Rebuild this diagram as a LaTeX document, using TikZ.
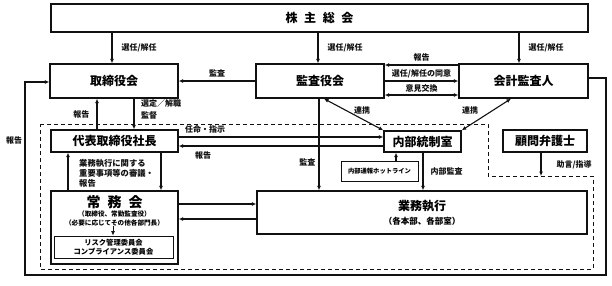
\documentclass[tikz,border=0pt]{standalone}
\usepackage{fontspec}
\setmainfont{Noto Sans CJK JP}
\usetikzlibrary{arrows.meta}
\definecolor{orgink}{HTML}{111111}
\newcommand{\fsz}[1]{\fontsize{#1}{#1}\selectfont}
\tikzstyle{orgbox}=[draw=orgink,line width=1.4pt,align=center,inner sep=0pt,
  font=\bfseries\fsz{12}]
\tikzstyle{thinbox}=[draw=orgink,line width=0.7pt,align=center,inner sep=0pt]
\tikzstyle{lbl}=[text=orgink,font=\bfseries\fontsize{8}{12}\selectfont,inner sep=1pt,align=left]
\tikzstyle{arr}=[draw=orgink,line width=1.1pt,-{Latex[length=4.5pt,width=4pt]}]
\tikzstyle{darr}=[draw=orgink,line width=1.1pt,{Latex[length=4.5pt,width=4pt]}-{Latex[length=4.5pt,width=4pt]}]
\tikzstyle{area}=[draw=orgink,line width=0.8pt,dash pattern=on 4pt off 3pt]

\begin{document}
\begin{tikzpicture}[x=1pt,y=-1pt]
  \useasboundingbox (0,0) rectangle (612,285);
  % boxes
  \node[orgbox,minimum width=537pt,minimum height=28pt] (soukai) at (319.5,18) {株\hspace{0.55em}主\hspace{0.55em}総\hspace{0.55em}会};
  \node[orgbox,minimum width=128pt,minimum height=34pt] (torishimari) at (114,81) {取締役会};
  \node[orgbox,minimum width=128pt,minimum height=34pt] (kansa) at (320,81) {監査役会};
  \node[orgbox,minimum width=129pt,minimum height=34pt] (kaikei) at (523.5,81) {会計監査人};
  \node[orgbox,minimum width=127pt,minimum height=22pt] (shacho) at (114.5,141) {代表取締役社長};
  \node[orgbox,minimum width=77pt,minimum height=21pt] (naibu) at (422.5,141.5) {内部統制室};
  \node[orgbox,minimum width=84pt,minimum height=22pt] (komon) at (545,141) {顧問弁護士};
  \node[thinbox,minimum width=77pt,minimum height=20pt,font=\bfseries\fsz{6.3}] (hotline) at (379.5,171) {内部通報ホットライン};
  \node[orgbox,minimum width=330pt,minimum height=43pt] (gyomu) at (422,212.5) {業務執行\\[2pt]{\fsz{8.5}（各本部、各部室）}};
  \node[orgbox,minimum width=127pt,minimum height=73pt] (jomu) at (114.5,227.5) {};
  \node[font=\bfseries\fsz{14}] (jomutitle) at (114.5,202) {常\hspace{0.5em}務\hspace{0.5em}会};
  \node[font=\bfseries\fsz{6.6},align=center,inner sep=0pt] (jomusub) at (114.5,218.5) {（取締役、常勤監査役）\\[2.4pt]（必要に応じてその他各部門長）};
  \node[thinbox,minimum width=119pt,minimum height=22pt,font=\bfseries\fsz{7.3}] (risk) at (113.5,247) {リスク管理委員会\\[1.5pt]コンプライアンス委員会};
  \coordinate (advice) at (541,176);
  % dashed area of execution
  \draw[area] (40,124) -- (488,124) -- (488,176) -- (593,176) -- (593,269) -- (40,269) -- cycle;
  % shareholders
  \draw[arr] (soukai.south -| 112,0) -- (torishimari.north -| 112,0) node[lbl,midway,right=8pt]{選任/解任};
  \draw[arr] (soukai.south -| 318,0) -- (kansa.north -| 318,0) node[lbl,midway,right=8pt]{選任/解任};
  \draw[arr] (soukai.south -| 519,0) -- (kaikei.north -| 519,0) node[lbl,midway,right=8pt]{選任/解任};
  % audit board and accountant
  \draw[arr] (kansa.west) -- (torishimari.east) node[lbl,midway,above=2pt]{監査};
  \draw[arr] (kaikei.west |- 0,65) -- (kansa.east |- 0,65) node[lbl,midway,above=2pt]{報告};
  \draw[arr] (kansa.east) -- (kaikei.west) node[lbl,midway,above=1pt]{選任/解任の同意};
  \draw[darr] (kansa.east |- 0,95) -- (kaikei.west |- 0,95) node[lbl,midway,above=1pt]{意見交換};
  \draw[arr,line width=1.6pt] (kaikei.east |- 0,78) -- (606,78) |- (25,275) |- (torishimari.west |- 0,82);
  \node[lbl] (outrep) at (14,140) {報告};
  % board and president
  \draw[arr] (shacho.north -| 97,0) -- (torishimari.south -| 97,0) node[lbl,midway,left=6pt]{報告};
  \draw[arr] (torishimari.south -| 134,0) -- (shacho.north -| 134,0);
  \node[lbl,anchor=west] (sentei) at (140,109) {選定／解職\\監督};
  \draw[arr] (shacho.east |- 0,137) -- (naibu.west |- 0,137);
  \node[lbl,anchor=west] (ninmei) at (184,129) {任命・指示};
  \draw[arr] (naibu.west |- 0,146) -- (shacho.east |- 0,146);
  \node[lbl] (hokoku) at (203,155) {報告};
  % cooperation
  \draw[darr] (kansa.south -| 324,0) -- (naibu.north west);
  \node[lbl] (renkei1) at (362,110) {連携};
  \draw[darr] (kaikei.south -| 511,0) -- (naibu.north east);
  \node[lbl] (renkei2) at (470,110) {連携};
  % audits
  \draw[arr] (kansa.south -| 319,0) -- (gyomu.north -| 319,0) node[lbl,pos=0.7,left=2pt]{監査};
  \draw[arr] (hotline.north -| 396,0) -- (naibu.south -| 396,0);
  \draw[arr] (naibu.south -| 423,0) -- (gyomu.north -| 423,0) node[lbl,midway,right=6pt]{内部監査};
  \draw[arr] (komon.south -| 541,0) -- (advice) node[lbl,midway,right=14pt]{助言/指導};
  % managing board
  \draw[arr] (shacho.south -| 161,0) -- (jomu.north -| 161,0);
  \draw[arr] (jomu.north -| 68,0) -- (shacho.south -| 68,0);
  \node[lbl,anchor=west,font=\bfseries\fontsize{8.3}{10}\selectfont] (shingi) at (78,173) {業務執行に関する\\重要事項等の審議・\\報告};
  \draw[arr] (jomu.east |- 0,204) -- (gyomu.west |- 0,204);
  \draw[arr] (gyomu.west |- 0,219) -- (jomu.east |- 0,219);
  \draw[arr,line width=0.9pt] (jomusub.south -| 113,0) -- (risk.north -| 113,0);
\end{tikzpicture}
\end{document}
